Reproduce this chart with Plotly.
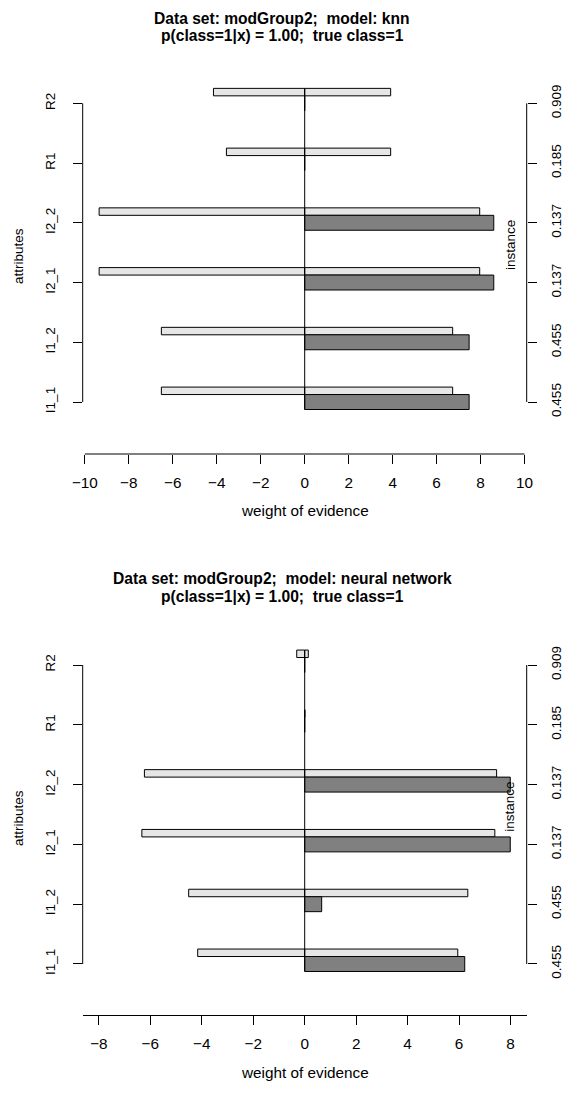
import plotly.graph_objects as go

W, H = 564, 1093

# ---------------- data ----------------
attributes = ["I1_1", "I1_2", "I2_1", "I2_2", "R1", "R2"]
instance_values = ["0.455", "0.455", "0.137", "0.137", "0.185", "0.909"]

knn_avg_neg = [-6.52, -6.52, -9.35, -9.35, -3.56, -4.15]
knn_avg_pos = [6.73, 6.73, 7.96, 7.96, 3.91, 3.91]
knn_instance = [7.48, 7.48, 8.60, 8.60, 0.0, 0.0]

nn_avg_neg = [-4.16, -4.51, -6.33, -6.23, 0.0, -0.31]
nn_avg_pos = [5.95, 6.34, 7.39, 7.46, 0.0, 0.14]
nn_instance = [6.22, 0.66, 7.99, 7.99, 0.0, 0.0]

knn_ticks = [-10, -8, -6, -4, -2, 0, 2, 4, 6, 8, 10]
nn_ticks = [-8, -6, -4, -2, 0, 2, 4, 6, 8]

titles = [
    ("Data set: modGroup2;\u00a0 model: knn", "p(class=1|x) = 1.00;\u00a0 true class=1"),
    ("Data set: modGroup2;\u00a0 model: neural network", "p(class=1|x) = 1.00;\u00a0 true class=1"),
]

# ---------------- style ----------------
FONT = "Liberation Sans, Arial, Helvetica, sans-serif"
LIGHT = "#e6e6e6"
DARK = "#808080"
FS_H = 15.3   # horizontal text
FS_V = 13.5   # vertical text
FS_T = 15.6   # titles

def py(px):
    return 1 - px / H

def px_x(px):
    return px / W

panels = [
    dict(neg=knn_avg_neg, pos=knn_avg_pos, inst=knn_instance, ticks=knn_ticks,
         title=titles[0], top=80, bottom=454, yr=[-0.870, 5.390], full_line=False,
         t1=18.4, t2=35.8, xlab=511, ylab=256, instlab=245),
    dict(neg=nn_avg_neg, pos=nn_avg_pos, inst=nn_instance, ticks=nn_ticks,
         title=titles[1], top=640, bottom=1015, yr=[-0.853, 5.418], full_line=True,
         t1=578.8, t2=596.2, xlab=1072, ylab=818, instlab=806.7),
]

x_left, x_right = 82.7, 526.7
n = len(attributes)

fig = go.Figure()
shapes = []
annotations = []
layout = {}

for i, p in enumerate(panels):
    k = i + 1
    xa = "x" if k == 1 else f"x{k}"
    ya = "y" if k == 1 else f"y{k}"
    ra = f"y{k + 2}"
    xname = "xaxis" if k == 1 else f"xaxis{k}"
    yname = "yaxis" if k == 1 else f"yaxis{k}"
    rname = f"yaxis{k + 2}"

    lim = 1.08 * max(max(abs(v) for v in p["neg"]), max(abs(v) for v in p["pos"]),
                     max(abs(v) for v in p["inst"]))

    common = dict(orientation="h", y=attributes, xaxis=xa, yaxis=ya,
                  hoverinfo="x+y", showlegend=False)
    fig.add_trace(go.Bar(x=p["neg"], base=0, width=0.125, offset=0.125,
                         marker=dict(color=LIGHT, line=dict(color="black", width=1)), **common))
    fig.add_trace(go.Bar(x=p["pos"], base=0, width=0.125, offset=0.125,
                         marker=dict(color=LIGHT, line=dict(color="black", width=1)), **common))
    fig.add_trace(go.Bar(x=p["inst"], base=0, width=0.25, offset=-0.125,
                         marker=dict(color=DARK, line=dict(color="black", width=1)), **common))
    # invisible trace to bind the right-hand axis
    fig.add_trace(go.Scatter(x=[0] * n, y=list(range(n)), xaxis=xa, yaxis=ra,
                             mode="markers", marker=dict(opacity=0), hoverinfo="skip",
                             showlegend=False))

    dom_y = [py(p["bottom"]), py(p["top"])]
    layout[xname] = dict(domain=[px_x(x_left), px_x(x_right)], range=[-lim, lim],
                         anchor=ya, tickvals=p["ticks"], ticks="outside", ticklen=9,
                         tickwidth=1, tickcolor="black", showgrid=False, zeroline=False,
                         showline=p["full_line"], linecolor="black", linewidth=1,
                         tickfont=dict(size=FS_H, color="black", family=FONT),
                         ticklabelstandoff=6, automargin=False)
    layout[yname] = dict(domain=dom_y, range=p["yr"], anchor=xa, type="category",
                         categoryorder="array", categoryarray=attributes,
                         ticks="outside", ticklen=9, tickwidth=1, tickcolor="black",
                         showgrid=False, zeroline=False, showline=False, tickangle=-90,
                         tickfont=dict(size=FS_V, color="black", family=FONT),
                         ticklabelstandoff=12, automargin=False)
    layout[rname] = dict(overlaying=ya, side="right", anchor=xa, range=p["yr"],
                         tickvals=list(range(n)), ticktext=instance_values,
                         ticks="outside", ticklen=9, tickwidth=1, tickcolor="black",
                         showgrid=False, zeroline=False, showline=False, tickangle=-90,
                         tickfont=dict(size=FS_V, color="black", family=FONT),
                         ticklabelstandoff=8, automargin=False)

    line = dict(color="black", width=1)
    # zero line
    shapes.append(dict(type="line", xref=xa, yref=ya, x0=0, x1=0,
                       y0=-0.125, y1=n - 1 + 0.25, line=line))
    # left / right axis lines spanning the tick range
    for xd in (0, 1):
        shapes.append(dict(type="line", xref=f"{xa} domain", yref=ya, x0=xd, x1=xd,
                           y0=0, y1=n - 1, line=line))
    if not p["full_line"]:
        shapes.append(dict(type="line", xref=xa, yref=f"{ya} domain",
                           x0=min(p["ticks"]), x1=max(p["ticks"]), y0=0, y1=0, line=line))

    # titles
    for txt, yy in ((p["title"][0], p["t1"]), (p["title"][1], p["t2"])):
        annotations.append(dict(text=f"<b>{txt}</b>", xref="paper", yref="paper",
                                x=px_x(282), y=py(yy), xanchor="center", yanchor="middle",
                                showarrow=False,
                                font=dict(size=FS_T, color="black", family=FONT)))
    annotations.append(dict(text="weight of evidence", xref="paper", yref="paper",
                            x=px_x(304.6), y=py(p["xlab"]), xanchor="center",
                            yanchor="middle", showarrow=False,
                            font=dict(size=FS_H, color="black", family=FONT)))
    annotations.append(dict(text="attributes", xref="paper", yref="paper",
                            x=px_x(18), y=py(p["ylab"]), xanchor="center",
                            yanchor="middle", textangle=-90, showarrow=False,
                            font=dict(size=FS_V, color="black", family=FONT)))
    annotations.append(dict(text="instance", xref="paper", yref="paper",
                            x=px_x(510), y=py(p["instlab"]), xanchor="center",
                            yanchor="middle", textangle=-90, showarrow=False,
                            font=dict(size=FS_V, color="black", family=FONT)))

fig.update_layout(width=W, height=H, margin=dict(l=0, r=0, t=0, b=0),
                  paper_bgcolor="white", plot_bgcolor="white", barmode="overlay",
                  shapes=shapes, annotations=annotations,
                  font=dict(family=FONT, color="black"), **layout)

fig.write_html("out.html")
